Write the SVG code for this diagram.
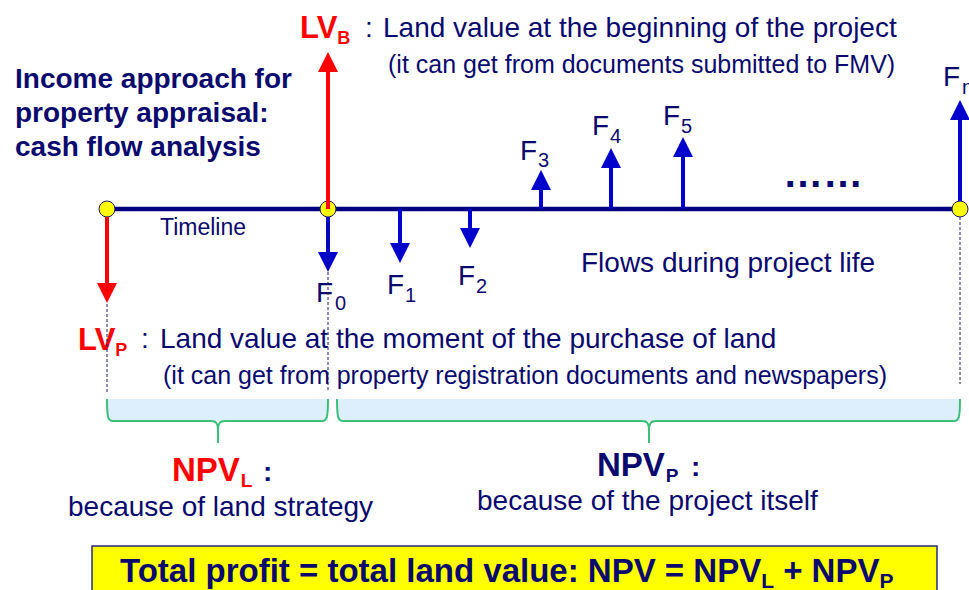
<svg xmlns="http://www.w3.org/2000/svg" width="969" height="590" viewBox="0 0 969 590">
  <style>
    text { font-family: "Liberation Sans", Arial, sans-serif; fill: #0a0a6e; }
    .b { font-weight: bold; }
    .red { fill: #ff0000; }
    .big { font-size: 28px; }
    .note { font-size: 25px; }
    .flab { font-size: 28px; }
    .fsub { font-size: 20px; }
    .blue { stroke: #0000cc; stroke-width: 4; fill: none; }
    .redline { stroke: #ff0000; stroke-width: 4; fill: none; }
    .guide { stroke: #1a1a6e; stroke-width: 1; stroke-dasharray: 3 2; fill: none; }
    .band { fill: #ddeffd; }
    .brace { stroke: #3cbf78; stroke-width: 2; fill: none; }
    .node { fill: #ffff00; stroke: #1a1a6e; stroke-width: 1; }
  </style>
  <defs>
    <marker id="headBlue" viewBox="0 0 20 20" refX="0" refY="10" markerWidth="20" markerHeight="20" markerUnits="userSpaceOnUse" orient="auto">
      <path d="M0,0 L20,10 L0,20 z" fill="#0000cc"/>
    </marker>
    <marker id="headRed" viewBox="0 0 20 20" refX="0" refY="10" markerWidth="20" markerHeight="20" markerUnits="userSpaceOnUse" orient="auto">
      <path d="M0,0 L20,10 L0,20 z" fill="#ff0000"/>
    </marker>
  </defs>

  <rect width="969" height="590" fill="#ffffff"/>

  <!-- Heading -->
  <g id="title">
    <text class="b big" x="15" y="88">Income approach for</text>
    <text class="b big" x="15" y="122">property appraisal:</text>
    <text class="b big" x="15" y="156">cash flow analysis</text>
  </g>

  <!-- Timeline axis -->
  <g id="timeline">
    <line x1="107" y1="209" x2="960" y2="209" stroke="#000080" stroke-width="4.5"/>
    <text x="160" y="235" style="font-size:23px">Timeline</text>
  </g>

  <!-- Points in time -->
  <g id="point-purchase"><circle class="node" cx="107" cy="209" r="8"/></g>
  <g id="point-start"><circle class="node" cx="328" cy="209" r="8"/></g>
  <g id="point-end"><circle class="node" cx="960" cy="209" r="8"/></g>

  <!-- Value and cash-flow arrows -->
  <g id="connectors">
    <line class="redline" x1="328" y1="209" x2="328" y2="72" marker-end="url(#headRed)"/>
    <line class="redline" x1="107" y1="217" x2="107" y2="283" marker-end="url(#headRed)"/>
    <line class="blue" x1="328" y1="217" x2="328" y2="252" marker-end="url(#headBlue)"/>
    <line class="blue" x1="400" y1="209" x2="400" y2="243" marker-end="url(#headBlue)"/>
    <line class="blue" x1="470" y1="209" x2="470" y2="228" marker-end="url(#headBlue)"/>
    <line class="blue" x1="541" y1="209" x2="541" y2="190" marker-end="url(#headBlue)"/>
    <line class="blue" x1="611" y1="209" x2="611" y2="168" marker-end="url(#headBlue)"/>
    <line class="blue" x1="683" y1="209" x2="683" y2="157" marker-end="url(#headBlue)"/>
    <line class="blue" x1="960" y1="201" x2="960" y2="120" marker-end="url(#headBlue)"/>
  </g>

  <!-- Land value at project start -->
  <g id="lvb">
    <text class="b red" x="300" y="38" style="font-size:31px">LV<tspan dy="6" style="font-size:18px">B</tspan></text>
    <text class="big" x="365" y="37">:</text>
    <text class="big" x="383" y="37">Land value at the beginning of the project</text>
    <text class="note" x="388" y="73">(it can get from documents submitted to FMV)</text>
  </g>

  <!-- Cash-flow labels -->
  <g id="flows">
    <text class="flab" x="316" y="302">F<tspan class="fsub" dx="2" dy="8">0</tspan></text>
    <text class="flab" x="387" y="294">F<tspan class="fsub" dx="1" dy="8">1</tspan></text>
    <text class="flab" x="458" y="285">F<tspan class="fsub" dx="1" dy="8">2</tspan></text>
    <text class="flab" x="520" y="160">F<tspan class="fsub" dx="1" dy="7">3</tspan></text>
    <text class="flab" x="592" y="135">F<tspan class="fsub" dx="1" dy="8">4</tspan></text>
    <text class="flab" x="663" y="125">F<tspan class="fsub" dx="1" dy="8">5</tspan></text>
    <text class="flab" x="943" y="86">F<tspan class="fsub" dx="2" dy="8">n</tspan></text>
    <text class="b" x="783" y="187" style="font-size:40px">……</text>
    <text class="big" x="581" y="272">Flows during project life</text>
  </g>

  <!-- Land value at purchase -->
  <g id="lvp">
    <text class="b red" x="78" y="350" style="font-size:31px">LV<tspan dy="6" style="font-size:18px">P</tspan></text>
    <text class="big" x="141" y="348">:</text>
    <text class="big" x="160" y="348">Land value at the moment of the purchase of land</text>
    <text class="note" x="163" y="384">(it can get from property registration documents and newspapers)</text>
  </g>

  <!-- Dashed guides down to the brackets -->
  <g id="guides">
    <line class="guide" x1="107" y1="304" x2="107" y2="392"/>
    <line class="guide" x1="328" y1="217" x2="328" y2="392"/>
    <line class="guide" x1="960" y1="217" x2="960" y2="384"/>
  </g>

  <!-- Period brackets -->
  <g id="bracket-land">
    <rect class="band" x="107" y="399" width="221" height="22"/>
    <path class="brace" d="M107,399 C107,417 108,421 113,421 L211,421 C216,421 218,423 218,431 L218,443 M218,431 C218,423 220,421 225,421 L322,421 C327,421 328,417 328,399"/>
  </g>
  <g id="bracket-project">
    <rect class="band" x="337" y="399" width="623" height="22"/>
    <path class="brace" d="M337,399 C337,417 338,421 343,421 L642,421 C647,421 649,423 649,431 L649,443 M649,431 C649,423 651,421 656,421 L954,421 C959,421 960,417 960,399"/>
  </g>

  <g id="npv-l">
    <text class="b red" x="172" y="481" style="font-size:33px">NPV<tspan dx="1" dy="6" style="font-size:19px">L</tspan></text>
    <text class="b" x="263" y="481" style="font-size:28px">:</text>
    <text class="big" x="68" y="516">because of land strategy</text>
  </g>

  <g id="npv-p">
    <text class="b" x="597" y="476" style="font-size:33px">NPV<tspan dx="1" dy="6" style="font-size:19px">P</tspan></text>
    <text class="b" x="691" y="476" style="font-size:28px">:</text>
    <text class="big" x="477" y="510">because of the project itself</text>
  </g>

  <!-- Summary box -->
  <g id="total">
    <rect x="92" y="546" width="845" height="50" fill="#ffff00" stroke="#2a2a7a" stroke-width="1.5"/>
    <text class="b" x="120" y="582" style="font-size:33px">Total profit = total land value: NPV = NPV<tspan dy="6" style="font-size:21px">L</tspan><tspan dy="-6"> + NPV</tspan><tspan dy="6" style="font-size:21px">P</tspan></text>
  </g>
</svg>
